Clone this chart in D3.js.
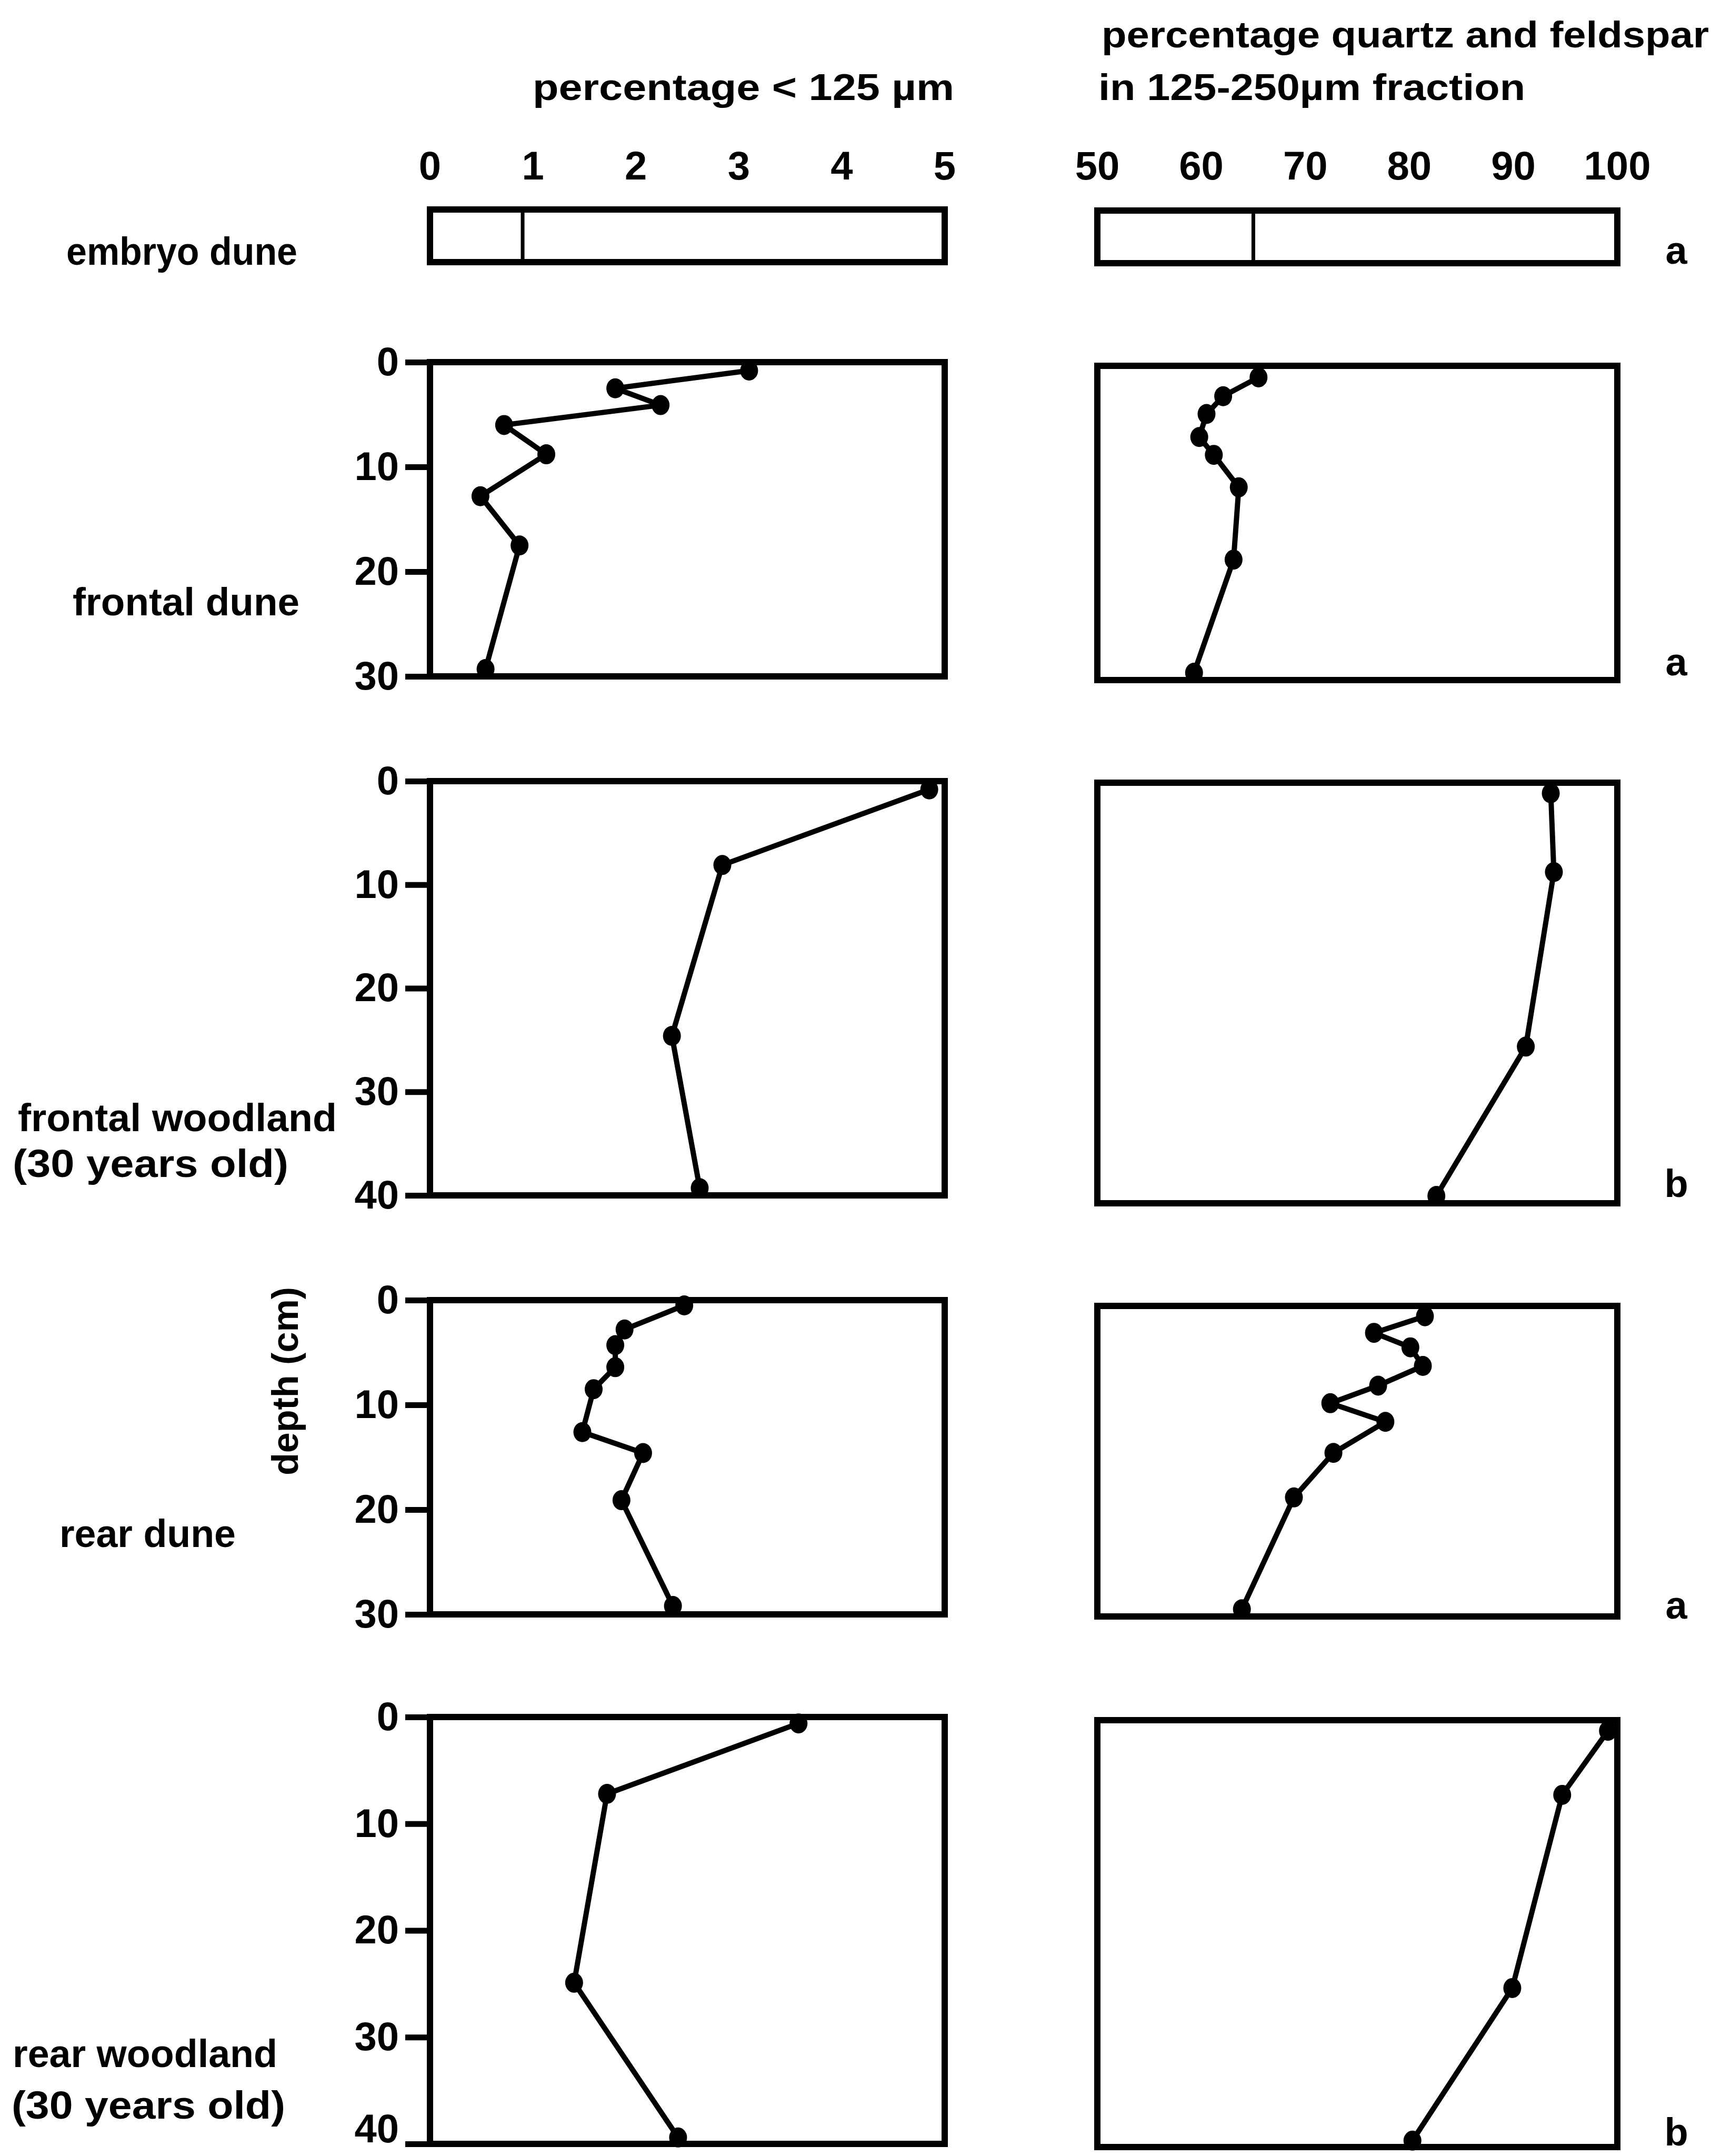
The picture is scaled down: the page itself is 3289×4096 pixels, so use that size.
<!DOCTYPE html>
<html><head><meta charset="utf-8">
<script src="https://cdn.jsdelivr.net/npm/d3@7"></script>
<style>
html,body{margin:0;padding:0;background:#fff;}
svg{display:block;}
text{font-family:"Liberation Sans",Arial,Helvetica,sans-serif;font-weight:bold;fill:#000;}
</style>
</head><body>
<svg id="chart" width="3289" height="4096"></svg>
<script>
// ---------------- data ----------------
const fineTicks = [0, 1, 2, 3, 4, 5];
const qfTicks = [50, 60, 70, 80, 90, 100];
const depthTicks30 = [0, 10, 20, 30];
const depthTicks40 = [0, 10, 20, 30, 40];

const embryoFine = 0.9;
const embryoQF = 65;

const frontalDuneFineDepth = [0.8, 2.5, 4.1, 6.0, 8.8, 12.8, 17.5, 29.3];
const frontalDuneFine      = [3.1, 1.8, 2.24, 0.72, 1.13, 0.49, 0.87, 0.54];
const frontalDuneQFDepth   = [1.1, 2.9, 4.6, 6.8, 8.5, 11.6, 18.5, 29.3];
const frontalDuneQF        = [65.5, 62.1, 60.5, 59.8, 61.2, 63.6, 63.1, 59.3];

const frontalWoodFineDepth = [0.8, 8.1, 24.6, 39.3];
const frontalWoodFine      = [4.85, 2.84, 2.35, 2.62];
const frontalWoodQFDepth   = [1.0, 8.5, 25.1, 39.3];
const frontalWoodQF        = [93.6, 93.9, 91.2, 82.6];

const rearDuneFineDepth = [0.5, 2.8, 4.3, 6.4, 8.5, 12.6, 14.6, 19.1, 29.2];
const rearDuneFine      = [2.47, 1.89, 1.80, 1.80, 1.59, 1.48, 2.07, 1.86, 2.36];
const rearDuneQFDepth   = [1.0, 2.6, 4.0, 5.8, 7.7, 9.4, 11.2, 14.2, 18.5, 29.3];
const rearDuneQF        = [81.5, 76.6, 80.1, 81.3, 77.0, 72.4, 77.7, 72.7, 68.9, 63.9];

const rearWoodFineDepth = [0.6, 7.2, 24.9, 39.4];
const rearWoodFine      = [3.58, 1.72, 1.40, 2.41];
const rearWoodQFDepth   = [1.0, 7.0, 25.1, 39.4];
const rearWoodQF        = [99.1, 94.7, 89.9, 80.3];

const profileNames = ["frontal dune", "frontal woodland", "rear dune", "rear woodland"];
const profileLetters = ["a", "b", "a", "b"];
const profileMaxDepth = [30, 40, 30, 40];
const fineDepths = [frontalDuneFineDepth, frontalWoodFineDepth, rearDuneFineDepth, rearWoodFineDepth];
const fineValues = [frontalDuneFine, frontalWoodFine, rearDuneFine, rearWoodFine];
const qfDepths = [frontalDuneQFDepth, frontalWoodQFDepth, rearDuneQFDepth, rearWoodQFDepth];
const qfValues = [frontalDuneQF, frontalWoodQF, rearDuneQF, rearWoodQF];

// ---------------- layout ----------------
const svg = d3.select("#chart");
svg.append("rect").attr("width", 3289).attr("height", 4096).attr("fill", "#fff");

const LX = [817, 1795];
const RX = [2085, 3073];
const xFine = d3.scaleLinear().domain([0, 5]).range(LX);
const xQF = d3.scaleLinear().domain([50, 100]).range(RX);

const FRAME_W = 12;
const leftY = [[688, 1285], [1484, 2271], [2470, 3067], [3262, 4073]];
const rightY = [[695, 1292], [1487, 2286], [2481, 3071], [3268, 4079]];
const letterBase = [1283, 2274, 3075, 4076];
const embryoY = {L: [398, 498], R: [400, 500]};

function label(txt, x, y, size, len, anchor) {
  const t = svg.append("text").attr("x", x).attr("y", y)
    .attr("font-size", size).text(txt);
  if (anchor) t.attr("text-anchor", anchor);
  if (len) t.attr("textLength", len).attr("lengthAdjust", "spacingAndGlyphs");
  return t;
}
label("percentage quartz and feldspar", 2093, 90, 70, 1154);
label("in 125-250\u00b5m fraction", 2087, 190, 70, 811);
label("percentage < 125 \u00b5m", 1012, 190, 70, 801);

// top tick labels
svg.append("g").selectAll("text").data(fineTicks).join("text")
  .attr("x", d => xFine(d)).attr("y", 341).attr("text-anchor", "middle")
  .attr("font-size", 76).text(d => d);
svg.append("g").selectAll("text").data(qfTicks).join("text")
  .attr("x", d => xQF(d)).attr("y", 341).attr("text-anchor", "middle")
  .attr("font-size", 76).text(d => d);

function frame(x0, x1, y0, y1) {
  svg.append("rect").attr("x", x0).attr("y", y0)
    .attr("width", x1 - x0).attr("height", y1 - y0)
    .attr("fill", "none").attr("stroke", "#000").attr("stroke-width", FRAME_W);
}
// embryo dune boxes
frame(LX[0], LX[1], embryoY.L[0], embryoY.L[1]);
frame(RX[0], RX[1], embryoY.R[0], embryoY.R[1]);
svg.append("line").attr("x1", xFine(embryoFine)).attr("x2", xFine(embryoFine))
  .attr("y1", embryoY.L[0]).attr("y2", embryoY.L[1]).attr("stroke", "#000").attr("stroke-width", 7);
svg.append("line").attr("x1", xQF(embryoQF)).attr("x2", xQF(embryoQF))
  .attr("y1", embryoY.R[0]).attr("y2", embryoY.R[1]).attr("stroke", "#000").attr("stroke-width", 7);
label("embryo dune", 126, 503, 75, 439);
label("a", 3185, 501, 74, null, "middle");

function profile(xs, yRange, maxD, depths, vals) {
  const y = d3.scaleLinear().domain([0, maxD]).range(yRange);
  const pts = depths.map((d, i) => [xs(vals[i]), y(d)]);
  svg.append("path").attr("d", d3.line()(pts))
    .attr("fill", "none").attr("stroke", "#000").attr("stroke-width", 10)
    .attr("stroke-linejoin", "round");
  svg.append("g").selectAll("ellipse").data(pts).join("ellipse")
    .attr("cx", p => p[0]).attr("cy", p => p[1]).attr("rx", 17).attr("ry", 19)
    .attr("fill", "#000");
  return y;
}

profileNames.forEach((name, i) => {
  const maxD = profileMaxDepth[i];
  const yL = d3.scaleLinear().domain([0, maxD]).range(leftY[i]);
  const ax = svg.append("g").attr("transform", `translate(${LX[0]},0)`)
    .call(d3.axisLeft(yL).tickValues(maxD === 30 ? depthTicks30 : depthTicks40)
      .tickSize(47).tickPadding(12).tickFormat(d3.format("d")));
  ax.select(".domain").remove();
  ax.attr("font-family", null).attr("font-size", null);
  ax.selectAll(".tick line").attr("stroke", "#000").attr("stroke-width", 11);
  ax.selectAll(".tick text").attr("font-size", 76).attr("fill", "#000")
    .attr("font-weight", "bold");
  if (i === profileNames.length - 1) {
    // keep the bottom-most label inside the page
    ax.selectAll(".tick text").filter(d => d === maxD).attr("dy", "-0.05em");
  }

  frame(LX[0], LX[1], leftY[i][0], leftY[i][1]);
  frame(RX[0], RX[1], rightY[i][0], rightY[i][1]);
  profile(xFine, leftY[i], maxD, fineDepths[i], fineValues[i]);
  profile(xQF, rightY[i], maxD, qfDepths[i], qfValues[i]);
  label(profileLetters[i], 3185, letterBase[i], 74, null, "middle");
});

// row labels
label("frontal dune", 138, 1169, 75, 431);
label("frontal woodland", 34, 2149, 75, 606);
label("(30 years old)", 24, 2236, 75, 524);
label("rear dune", 113, 2939, 75, 335);
label("rear woodland", 24, 3927, 75, 503);
label("(30 years old)", 22, 4025, 75, 520);

svg.append("text").attr("transform", "translate(566,2624) rotate(-90)")
  .attr("text-anchor", "middle").attr("font-size", 70)
  .attr("textLength", 358).attr("lengthAdjust", "spacingAndGlyphs")
  .text("depth (cm)");
</script>
</body></html>
